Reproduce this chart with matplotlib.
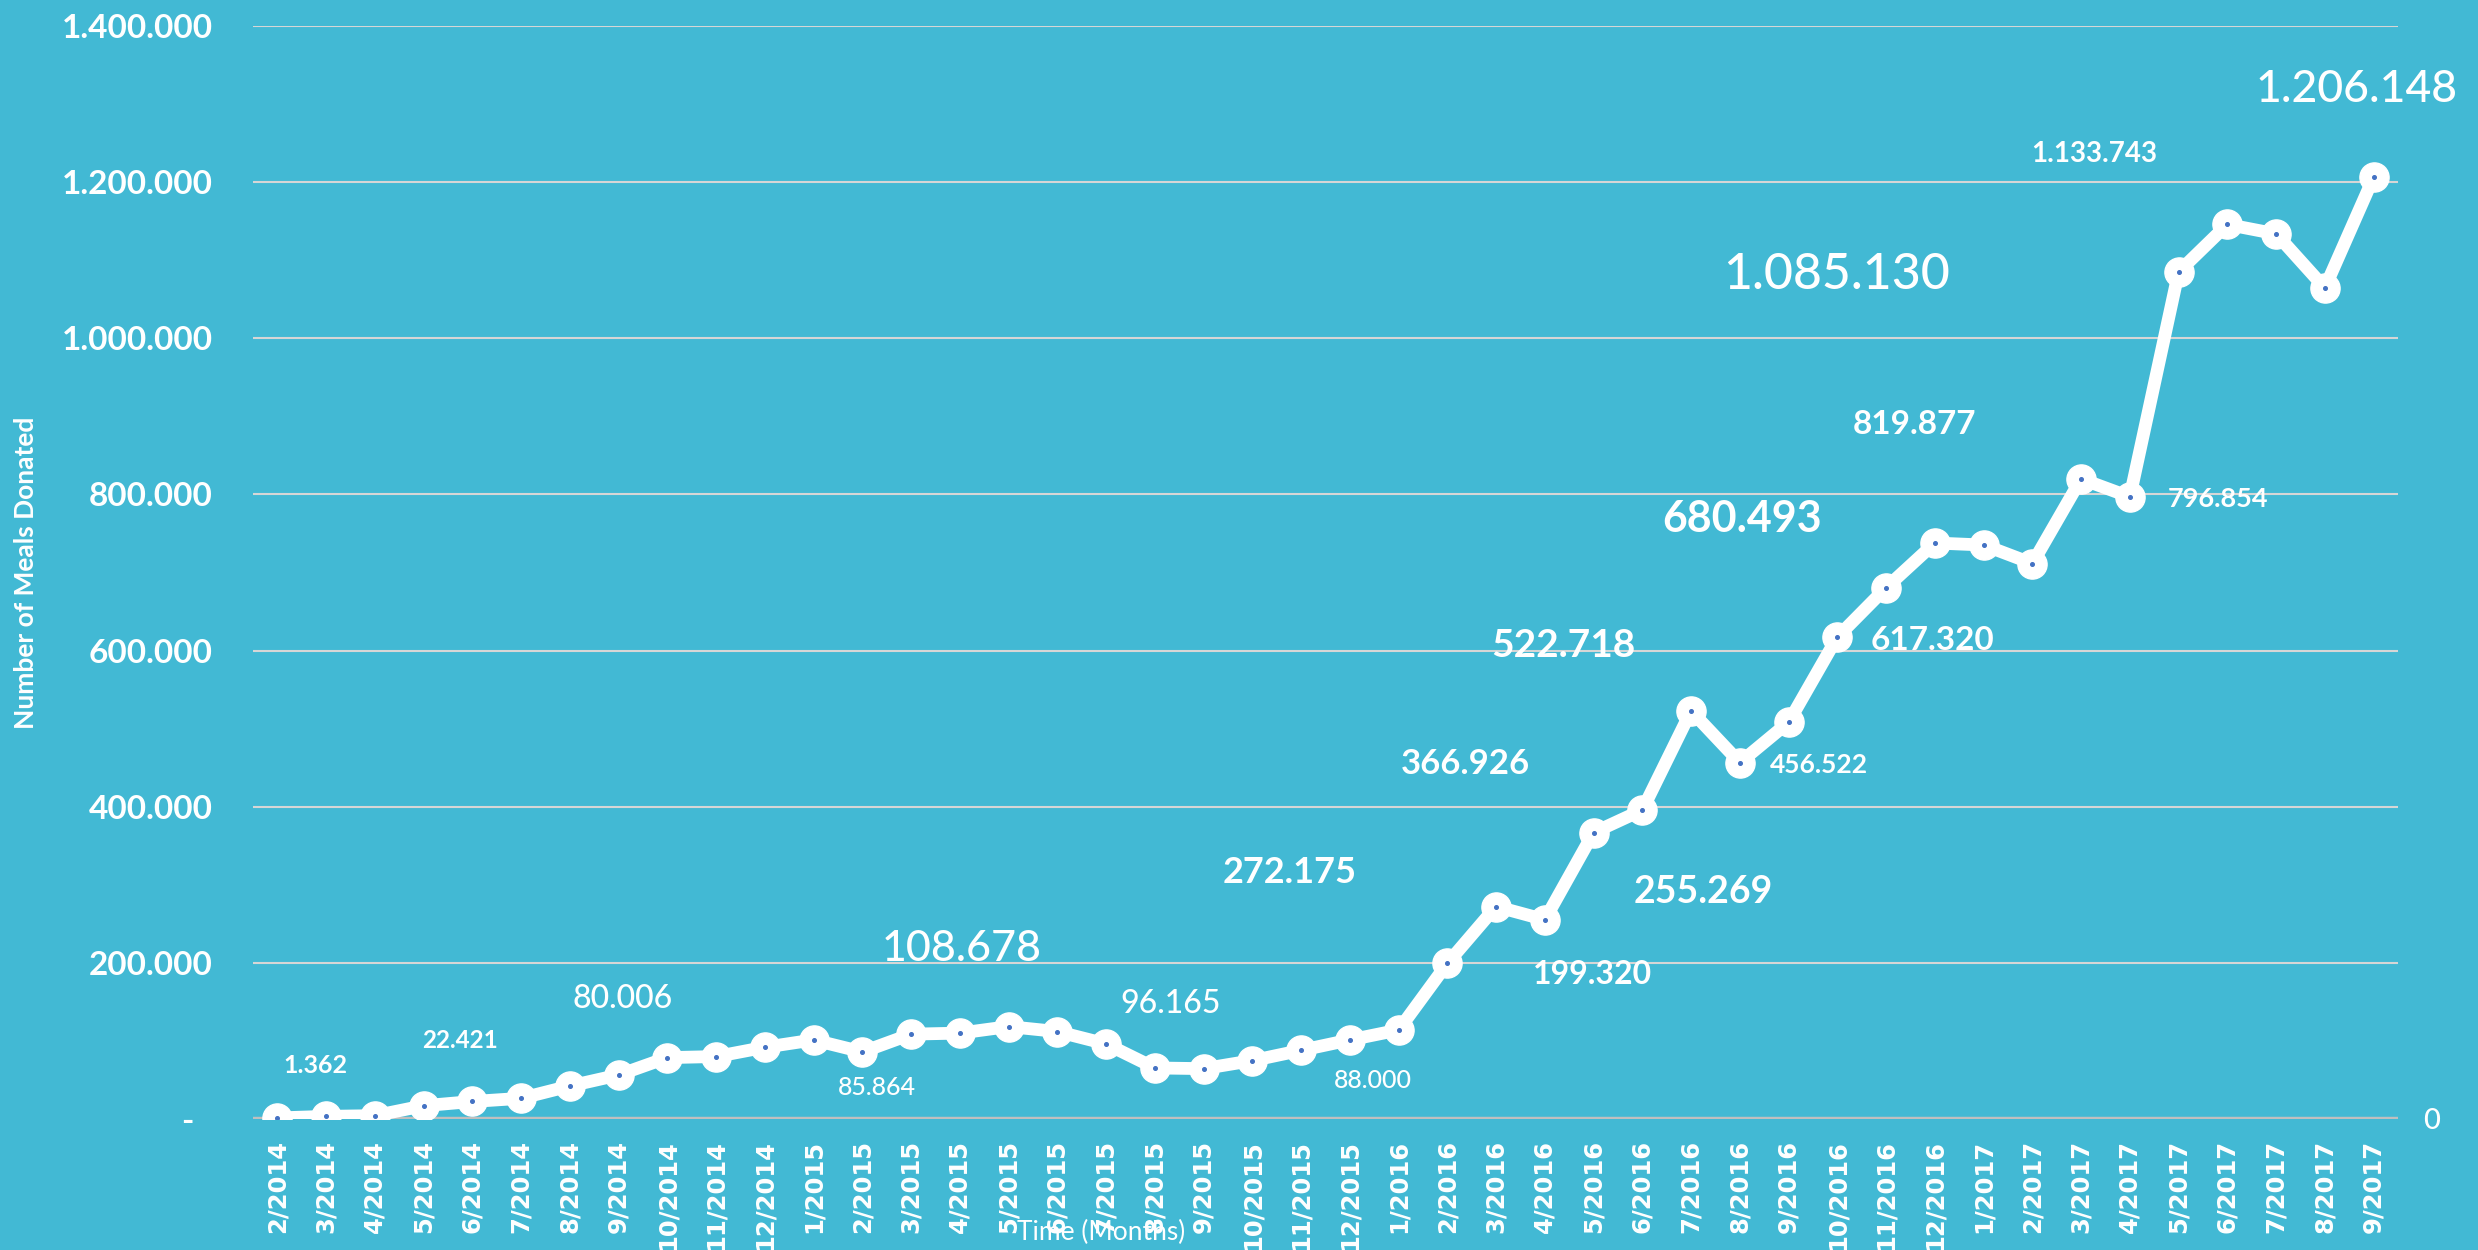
import matplotlib
matplotlib.use("Agg")
import matplotlib.pyplot as plt
from matplotlib.ticker import FixedLocator, FuncFormatter

# ---------------- data ----------------
months = ["2/2014", "3/2014", "4/2014", "5/2014", "6/2014", "7/2014", "8/2014", "9/2014",
          "10/2014", "11/2014", "12/2014",
          "1/2015", "2/2015", "3/2015", "4/2015", "5/2015", "6/2015", "7/2015", "8/2015",
          "9/2015", "10/2015", "11/2015", "12/2015",
          "1/2016", "2/2016", "3/2016", "4/2016", "5/2016", "6/2016", "7/2016", "8/2016",
          "9/2016", "10/2016", "11/2016", "12/2016",
          "1/2017", "2/2017", "3/2017", "4/2017", "5/2017", "6/2017", "7/2017", "8/2017",
          "9/2017"]
meals = [1362, 3400, 4300, 17000, 22421, 26500, 42300, 56400,
         78600, 80006, 91900,
         101300, 85864, 108678, 110000, 118400, 112000, 96165, 65400,
         64500, 74800, 88000, 101300,
         114000, 199320, 272175, 255269, 366926, 395800, 522718, 456522,
         508200, 617320, 680493, 737800,
         735200, 711500, 819877, 796854, 1085130, 1145800, 1133743, 1064500,
         1206148]
y_ticks = [0, 200000, 400000, 600000, 800000, 1000000, 1200000, 1400000]
y_label = "Number of Meals Donated"
x_label = "Time (Months)"

# label placement (style): index, dx px, dy px (up), font size, weight
label_style = [
    (0, 38, 54, 18, "bold"),
    (4, -12, 62, 17.5, "bold"),
    (9, -94, 60, 23, "medium"),
    (12, 15, -34, 18, "medium"),
    (13, 51, 89, 31, "medium"),
    (17, 64, 42, 23, "medium"),
    (21, 72, -29, 18, "medium"),
    (24, 145, -9, 23, "bold"),
    (25, -206, 36, 26, "bold"),
    (26, 158, 30, 27, "bold"),
    (27, -128, 71, 25, "bold"),
    (29, -128, 68, 28, "bold"),
    (30, 79, -1, 19, "bold"),
    (32, 95, -1, 24, "bold"),
    (33, -144, 71, 31, "bold"),
    (37, -167, 57, 24, "bold"),
    (38, 88, 0, 19.5, "bold"),
    (39, -342, 1, 36, "medium"),
    (41, -182, 82, 20, "bold"),
    (43, -17, 91, 32, "medium"),
]

# ---------------- style ----------------
BG = "#42B9D4"
FONT = ["Lato", "DejaVu Sans"]
W, H = 2478, 1250
L, R, B, T = 253, 2398, 1119, 26

fig = plt.figure(figsize=(W / 100, H / 100), dpi=100, facecolor=BG)
ax = fig.add_axes([L / W, 1 - B / H, (R - L) / W, (B - T) / H], facecolor=BG)

x = list(range(len(months)))
ax.plot(x, meals, color="white", lw=9.2, marker="o", ms=21, mfc="white", mec="white",
        zorder=3, solid_joinstyle="round")
ax.plot(x, meals, ls="none", marker="o", ms=2.6, color="#4472C4", zorder=4)

ax.set_xlim(-0.5, len(months) - 0.5)
ax.set_ylim(0, y_ticks[-1])

for s in ax.spines.values():
    s.set_visible(False)

ax.yaxis.set_major_locator(FixedLocator(y_ticks))
ax.yaxis.set_major_formatter(FuncFormatter(
    lambda v, p: "" if v == 0 else f"{v:,.0f}".replace(",", ".")))
ax.set_xticks(x)
ax.set_xticklabels(months, rotation=90, fontfamily="DejaVu Sans", fontweight="bold",
                   fontsize=17.5, color="white")
ax.tick_params(axis="x", length=0, pad=15)
ax.tick_params(axis="y", length=0, pad=29, labelcolor="white", labelsize=24)
for lab in ax.get_yticklabels():
    lab.set_fontfamily(FONT)
    lab.set_fontweight("bold")

ax.grid(axis="y", color="#D6D6D6", lw=1.5, zorder=1)
ax.axhline(0, color="#BFBFBF", lw=3.2, zorder=2)

# "-" for zero on the left, "0" on the right
ax.annotate("-", xy=(0, 0), xycoords=("axes fraction", "data"), xytext=(-66, 0),
            textcoords="offset pixels", ha="center", va="center_baseline",
            color="white", fontsize=24, fontweight="bold", family=FONT)
ax.annotate("0", xy=(1, 0), xycoords=("axes fraction", "data"), xytext=(34, -10),
            textcoords="offset pixels", ha="center", va="baseline",
            color="white", fontsize=21, fontweight="medium", family=FONT)

# data labels
for idx, dx, dy, size, weight in label_style:
    txt = f"{meals[idx]:,}".replace(",", ".")
    h = 0.716 * size * 100 / 72
    ax.annotate(txt, xy=(idx, meals[idx]), xytext=(dx, dy - h / 2),
                textcoords="offset pixels", ha="center", va="baseline",
                color="white", fontsize=size, fontweight=weight, family=FONT,
                zorder=5)

fig.text(26 / W, 1 - 573 / H, y_label, rotation=90, ha="center", va="center",
         color="white", fontsize=19, fontweight="bold", family=FONT)
fig.text(1101 / W, 1 - 1240 / H, x_label, ha="center", va="baseline",
         color="white", fontsize=19, family=FONT)

fig.savefig("out.png", dpi=100, facecolor=BG)
